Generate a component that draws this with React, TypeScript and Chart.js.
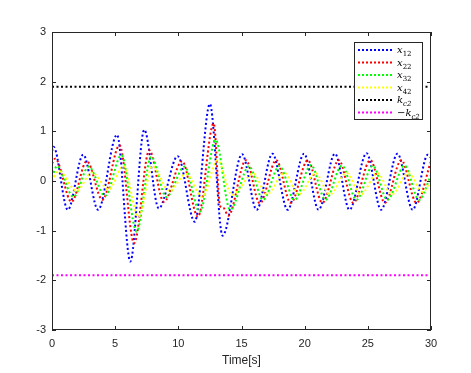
import React, { useEffect, useRef } from "react";
import { Chart, registerables } from "chart.js";

Chart.register(...registerables);

const x12T = [0, 0.12, 1.25, 2.47, 3.65, 5.15, 6.2, 7.3, 8.45, 9.95, 11.3, 12.5, 13.5, 15.05, 16.2, 17.45, 18.65, 19.95, 21.1, 22.4, 23.55, 24.9, 26.05, 27.35, 28.55, 29.75, 30];
const x12V = [0.6, 0.69, -0.58, 0.53, -0.58, 0.93, -1.62, 1.03, -0.55, 0.5, -0.82, 1.55, -1.1, 0.54, -0.58, 0.55, -0.58, 0.55, -0.58, 0.55, -0.58, 0.56, -0.58, 0.55, -0.58, 0.53, 0.47];

const x22T = [0, 0.25, 1.55, 2.75, 4.0, 5.35, 6.5, 7.7, 8.85, 10.3, 11.55, 12.8, 13.3, 13.6, 13.95, 15.35, 16.45, 17.75, 18.9, 20.25, 21.4, 22.7, 23.85, 25.2, 26.35, 27.65, 28.85, 30];
const x22V = [0.35, 0.45, -0.42, 0.4, -0.38, 0.72, -1.25, 0.62, -0.42, 0.4, -0.72, 1.16, -0.5, -0.55, -0.7, 0.42, -0.45, 0.42, -0.44, 0.42, -0.44, 0.42, -0.44, 0.42, -0.44, 0.42, -0.44, 0.4];

const x32T = [0, 0.4, 1.7, 2.9, 4.2, 5.5, 6.7, 7.85, 9.05, 10.5, 11.7, 12.95, 14.1, 15.6, 16.7, 18.0, 19.2, 20.5, 21.65, 22.95, 24.1, 25.4, 26.55, 27.9, 29.05, 30];
const x32V = [0.08, 0.3, -0.32, 0.29, -0.3, 0.52, -1.02, 0.49, -0.32, 0.29, -0.62, 0.83, -0.58, 0.3, -0.38, 0.3, -0.38, 0.32, -0.38, 0.31, -0.38, 0.31, -0.38, 0.31, -0.38, 0.12];

const x42T = [0, 0.55, 1.95, 3.15, 4.5, 5.65, 6.85, 7.95, 9.3, 10.6, 11.9, 13.1, 14.25, 15.95, 17.0, 18.4, 19.55, 20.85, 22.0, 23.3, 24.45, 25.75, 26.9, 28.2, 29.35, 30];
const x42V = [0.0, 0.2, -0.2, 0.17, -0.17, 0.3, -0.72, 0.3, -0.2, 0.14, -0.32, 0.42, -0.28, 0.15, -0.27, 0.16, -0.27, 0.16, -0.27, 0.16, -0.27, 0.16, -0.27, 0.16, -0.22, 0.02];

const kc2 = 1.9;
const xRange = [0, 30];
const yTicks = [-3, -2, -1, 0, 1, 2, 3];
const xTicks = [0, 5, 10, 15, 20, 25, 30];

const seriesNames = ["x12", "x22", "x32", "x42", "kc2", "-kc2"];
const seriesColors = ["#0000ff", "#ff0000", "#00ff00", "#ffff00", "#000000", "#ff00ff"];

const pts = (t: number[], v: number[]) => t.map((x, i) => ({ x, y: v[i] }));

const AXIS = "#262626";

const boxPlugin = {
  id: "boxTicks",
  afterDraw(chart: any) {
    const { ctx, chartArea: a, scales } = chart;
    ctx.save();
    ctx.strokeStyle = AXIS;
    ctx.lineWidth = 1;
    ctx.strokeRect(a.left + 0.5, a.top + 0.5, a.right - a.left - 1, a.bottom - a.top - 1);
    ctx.beginPath();
    const tl = 4;
    xTicks.forEach((t) => {
      const px = Math.round(scales.x.getPixelForValue(t)) + 0.5;
      ctx.moveTo(px, a.bottom);
      ctx.lineTo(px, a.bottom - tl);
      ctx.moveTo(px, a.top);
      ctx.lineTo(px, a.top + tl);
    });
    yTicks.forEach((t) => {
      const py = Math.round(scales.y.getPixelForValue(t)) + 0.5;
      ctx.moveTo(a.left, py);
      ctx.lineTo(a.left + tl, py);
      ctx.moveTo(a.right, py);
      ctx.lineTo(a.right - tl, py);
    });
    ctx.stroke();

    // legend
    const bx = 354, by = 42, bw = 68, bh = 77;
    ctx.fillStyle = "#ffffff";
    ctx.fillRect(bx, by, bw, bh);
    ctx.strokeStyle = AXIS;
    ctx.strokeRect(bx + 0.5, by + 0.5, bw, bh);
    seriesNames.forEach((name, i) => {
      const y = by + 8 + i * 12.5;
      ctx.beginPath();
      ctx.setLineDash([2, 2]);
      ctx.strokeStyle = seriesColors[i];
      ctx.lineWidth = 2;
      ctx.moveTo(358, y);
      ctx.lineTo(392, y);
      ctx.stroke();
      ctx.setLineDash([]);
      ctx.fillStyle = "#000";
      ctx.textBaseline = "alphabetic";
      let tx = 397;
      const neg = name.startsWith("-");
      const base = neg ? name.slice(1) : name;
      if (neg) {
        ctx.font = "10px 'DejaVu Serif'";
        ctx.fillText("\u2212", tx, y + 3);
        tx += ctx.measureText("\u2212").width;
      }
      ctx.font = "italic 10px 'DejaVu Serif'";
      const main = base[0];
      ctx.fillText(main, tx, y + 3);
      tx += ctx.measureText(main).width;
      ctx.font = (base[1] === "c" ? "italic " : "") + "7px 'DejaVu Serif'";
      ctx.fillText(base.slice(1), tx, y + 6);
    });
    ctx.restore();
  },
};

export default function App() {
  const ref = useRef<HTMLCanvasElement | null>(null);
  useEffect(() => {
    if (!ref.current) return;
    const dotted = { borderDash: [2, 2.5], borderWidth: 2, pointRadius: 0, fill: false, cubicInterpolationMode: "monotone" as const };
    const chart = new Chart(ref.current, {
      type: "line",
      data: {
        datasets: [
          { label: seriesNames[0], data: pts(x12T, x12V), borderColor: seriesColors[0], order: 4, ...dotted },
          { label: seriesNames[1], data: pts(x22T, x22V), borderColor: seriesColors[1], order: 3, ...dotted },
          { label: seriesNames[2], data: pts(x32T, x32V), borderColor: seriesColors[2], order: 2, ...dotted },
          { label: seriesNames[3], data: pts(x42T, x42V), borderColor: seriesColors[3], order: 1, ...dotted },
          { label: seriesNames[4], data: pts(xRange, [kc2, kc2]), borderColor: seriesColors[4], order: 0, ...dotted },
          { label: seriesNames[5], data: pts(xRange, [-kc2, -kc2]), borderColor: seriesColors[5], order: 0, ...dotted },
        ],
      },
      options: {
        animation: false,
        responsive: false,
        devicePixelRatio: 1,
        layout: { padding: { left: 0, top: 32, right: 40, bottom: 0 } },
        plugins: { legend: { display: false }, tooltip: { enabled: false } },
        scales: {
          x: {
            type: "linear",
            min: 0,
            max: 30,
            grid: { display: false, drawTicks: false, tickLength: 0 },
            border: { display: false },
            afterBuildTicks: (s: any) => { s.ticks = xTicks.map((v) => ({ value: v })); },
            afterFit: (s: any) => { s.height = 43; },
            ticks: { color: AXIS, font: { family: "'Liberation Sans', Arial", size: 11 }, padding: 7, maxRotation: 0 },
            title: { display: true, text: "Time[s]", color: AXIS, font: { family: "'Liberation Sans', Arial", size: 12 }, padding: { top: 2, bottom: 5 } },
          },
          y: {
            min: -3,
            max: 3,
            grid: { display: false, drawTicks: false, tickLength: 0 },
            border: { display: false },
            afterBuildTicks: (s: any) => { s.ticks = yTicks.map((v) => ({ value: v })); },
            afterFit: (s: any) => { s.width = 52; },
            ticks: { color: AXIS, font: { family: "'Liberation Sans', Arial", size: 11 }, padding: 6 },
          },
        },
      },
      plugins: [boxPlugin],
    });
    return () => chart.destroy();
  }, []);
  return (
    <div style={{ position: "absolute", left: 0, top: 0, width: 471, height: 373, background: "#fff" }}>
      <canvas ref={ref} width={471} height={373} />
    </div>
  );
}
